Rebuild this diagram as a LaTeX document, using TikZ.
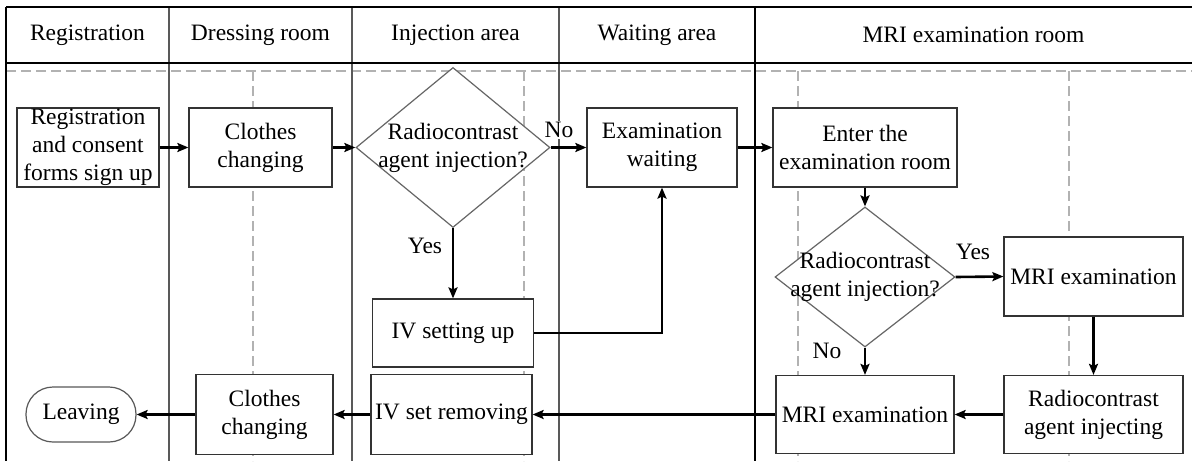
\documentclass[tikz,border=0pt]{standalone}
\usepackage{fontspec}
\setmainfont{Liberation Serif}
\usetikzlibrary{shapes.geometric,arrows.meta}
\begin{document}
\begin{tikzpicture}[x=1pt,y=-1pt,
  font=\fontsize{23.5}{28}\selectfont,
  box/.style={draw=black!80, line width=1.2pt, fill=white, align=center, inner sep=0pt},
  dia/.style={shape=diamond, draw=black!60, line width=1.2pt, fill=white, inner sep=0pt, minimum width=194pt, minimum height=160pt},
  term/.style={draw=black!65, line width=1.2pt, fill=white, rounded corners=27pt, inner sep=0pt, minimum width=110pt, minimum height=55pt},
  flow/.style={line width=2.6pt, -{Stealth[length=11pt,width=9pt,inset=2pt]}},
  lane/.style={draw=black!65, line width=1.5pt},
  frame/.style={draw=black, line width=2pt},
  guide/.style={draw=black!30, line width=1.2pt, dash pattern=on 10pt off 5pt},
  lbl/.style={fill=white, inner sep=1pt},
  head/.style={inner sep=0pt}
]
\useasboundingbox (0,0) rectangle (1192,461);
\fill[white] (0,0) rectangle (1192,461);

% guides
\draw[guide] (6,71) -- (1192,71);
\foreach \gx in {253,524,798,1069} \draw[guide] (\gx,71) -- (\gx,461);

% lanes
\foreach \lx in {169,352,559} \draw[lane] (\lx,7) -- (\lx,461);
\draw[draw=black, line width=1.3pt] (755,7) -- (755,461);
\draw[frame] (6,7) -- (1192,7);
\draw[frame] (6,63) -- (1192,63);
\draw[draw=black, line width=1.5pt] (6,7) -- (6,461);

% headers
\node[head] (h1) at (87.5,35) {Registration};
\node[head] (h2) at (260.5,35) {Dressing room};
\node[head] (h3) at (455.5,35) {Injection area};
\node[head] (h4) at (657,35) {Waiting area};
\node[head] (h5) at (973.5,35) {MRI examination room};

% nodes
\node[box, minimum width=142pt, minimum height=79pt] (reg) at (88,147.5) {Registration\\and consent\\forms sign up};
\node[box, minimum width=143pt, minimum height=79pt] (cl1) at (260.5,147.5) {Clothes\\changing};
\node[dia, label={[align=center]center:Radiocontrast\\agent injection?}] (d1) at (453,147.5) {};
\node[box, minimum width=150pt, minimum height=79pt] (ew) at (662,147.5) {Examination\\waiting};
\node[box, minimum width=184pt, minimum height=79pt] (enter) at (865,147.5) {Enter the\\examination room};
\node[dia, minimum width=180pt, minimum height=140pt, label={[align=center]center:Radiocontrast\\agent injection?}] (d2) at (865,277) {};
\node[box, minimum width=179pt, minimum height=79pt] (mri1) at (1093.5,276.5) {MRI examination};
\node[box, minimum width=179pt, minimum height=78pt] (inj) at (1093.5,414.5) {Radiocontrast\\agent injecting};
\node[box, minimum width=178pt, minimum height=78pt] (mri2) at (865,414.5) {MRI examination};
\node[box, minimum width=161pt, minimum height=68pt] (ivs) at (453,333) {IV setting up};
\node[box, minimum width=161pt, minimum height=80pt] (ivr) at (451.5,414.5) {IV set removing};
\node[box, minimum width=137pt, minimum height=80pt] (cl2) at (264.5,414.5) {Clothes\\changing};
\node[term] (leave) at (81,414.5) {Leaving};

% connectors
\draw[flow] (reg) -- (cl1);
\draw[flow] (cl1) -- (d1.west);
\draw[flow] (d1.east) -- (ew.west);
\draw[flow] (d1.south) -- (ivs.north);
\draw[flow] (ivs.east) -| (ew.south);
\draw[flow] (ew.east) -- (enter.west);
\draw[flow] (enter.south) -- (d2.north);
\draw[flow] (d2.east) -- (mri1.west);
\draw[flow] (d2.south) -- (mri2.north);
\draw[flow] (mri1.south) -- (inj.north);
\draw[flow] (inj.west) -- (mri2.east);
\draw[flow] (mri2.west) -- (ivr.east);
\draw[flow] (ivr.west) -- (cl2.east);
\draw[flow] (cl2.west) -- (leave.east);

% branch labels
\node[lbl] (n1) at (559,130) {No};
\node[lbl] (y1) at (425,246) {Yes};
\node[lbl] (y2) at (973,252) {Yes};
\node[lbl] (n2) at (827,351) {No};
\end{tikzpicture}
\end{document}
